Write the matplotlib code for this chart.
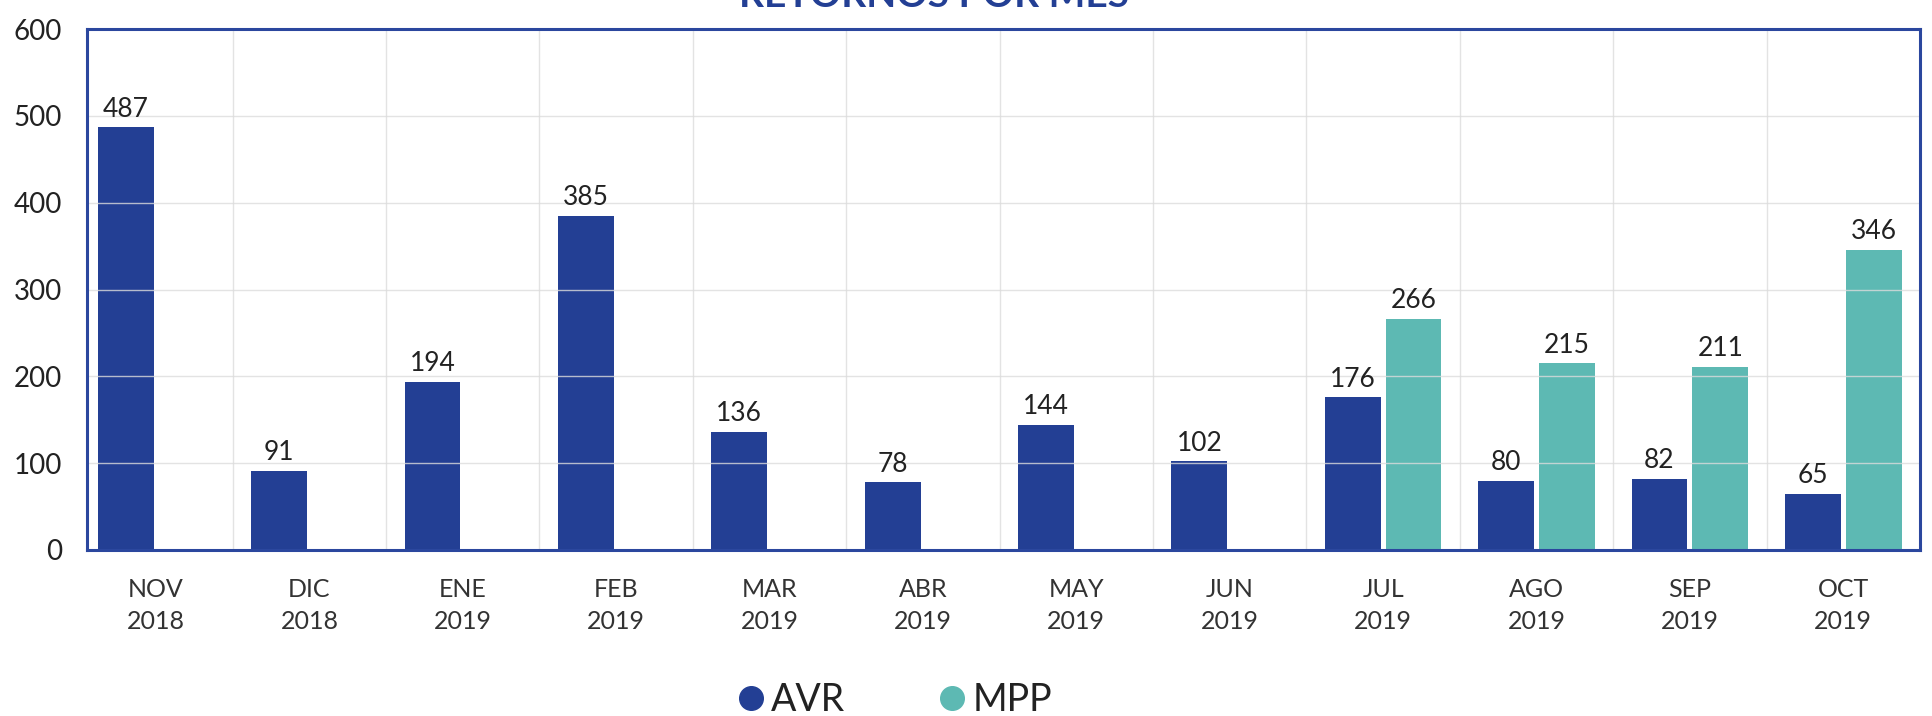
import numpy as np
import matplotlib
matplotlib.use("Agg")
import matplotlib.pyplot as plt
from matplotlib.lines import Line2D

# data
months = ["NOV\n2018", "DIC\n2018", "ENE\n2019", "FEB\n2019", "MAR\n2019", "ABR\n2019",
          "MAY\n2019", "JUN\n2019", "JUL\n2019", "AGO\n2019", "SEP\n2019", "OCT\n2019"]
avr = [487, 91, 194, 385, 136, 78, 144, 102, 176, 80, 82, 65]
mpp = [0, 0, 0, 0, 0, 0, 0, 0, 266, 215, 211, 346]
series_names = ["AVR", "MPP"]

colAVR = "#233f94"
colMPP = "#5db9b3"
colSpine = "#2b479e"
colText = "#222222"

plt.rcParams["font.family"] = ["Lato", "DejaVu Sans"]

fig = plt.figure(figsize=(19.32, 7.16), dpi=100)
ax = fig.add_axes([87 / 1932, 1 - 550 / 716, (1920 - 87) / 1932, (550 - 29) / 716])

x = np.arange(len(months))
w = 0.364
off = 0.198
barsA = ax.bar(x - off, avr, w, color=colAVR, zorder=2)
barsM = ax.bar(x + off, mpp, w, color=colMPP, zorder=2)

for bars, vals in ((barsA, avr), (barsM, mpp)):
    for b, v in zip(bars, vals):
        if v == 0:
            continue
        ax.annotate(str(v), (b.get_x() + b.get_width() / 2, v), xytext=(0, 4),
                    textcoords="offset points", ha="center", va="bottom",
                    fontsize=19, color=colText, zorder=4)

ax.set_xlim(-0.45, 11.45)
ax.set_ylim(0, 600)
ax.set_yticks(np.arange(0, 601, 100))
ax.set_xticks(x)
ax.set_xticklabels(months, fontsize=18, color="#333333", linespacing=1.5)
ax.tick_params(axis="y", labelsize=20, labelcolor=colText, length=0, pad=18)
ax.tick_params(axis="x", length=0, pad=20)

# grid on top of the bars, like the reference
ax.set_xticks(x + 0.5, minor=True)
ax.tick_params(axis="x", which="minor", length=0)
ax.grid(axis="y", color="#dcdcdc", lw=1, alpha=0.8, zorder=3)
ax.grid(axis="x", which="minor", color="#dcdcdc", lw=1, alpha=0.8, zorder=3)
ax.grid(axis="x", which="major", visible=False)
ax.set_axisbelow(False)

for s in ax.spines.values():
    s.set_color(colSpine)
    s.set_linewidth(2.2)
    s.set_zorder(5)

fig.text(934 / 1932, 1 - 7 / 716, "RETORNOS POR MES", ha="center", va="baseline",
         fontsize=28, fontweight="bold", color=colAVR)

handles = [Line2D([], [], ls="", marker="o", markersize=17, color=colAVR),
           Line2D([], [], ls="", marker="o", markersize=17, color=colMPP)]
fig.legend(handles, series_names, loc="center", bbox_to_anchor=(895 / 1932, 1 - 700 / 716),
           ncol=2, frameon=False, fontsize=27, handlelength=0.7, handletextpad=0.2,
           columnspacing=2.5, borderpad=0, labelcolor=colText)

fig.savefig("out.png", dpi=100)
